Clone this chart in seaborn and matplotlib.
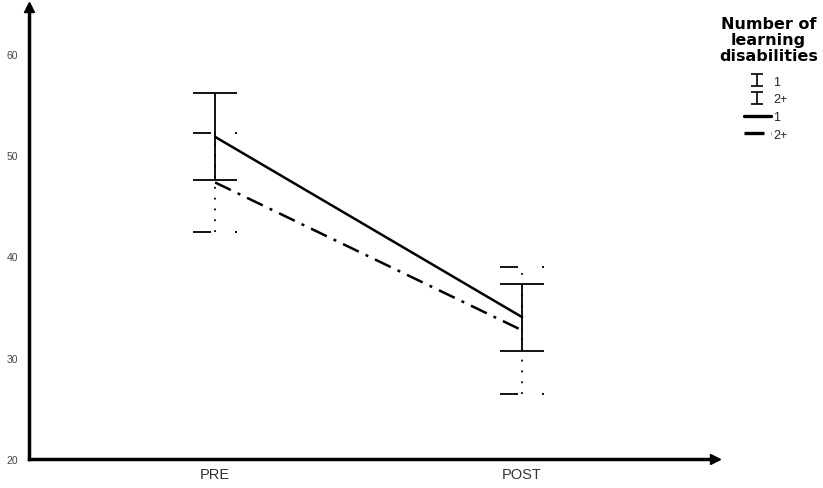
import pandas as pd
import matplotlib.pyplot as plt
import seaborn as sns
from matplotlib.lines import Line2D
from matplotlib.path import Path

# values
times = ['PRE', 'POST']
mean_one = [51.8, 34.0]
mean_two = [47.3, 32.7]
err_one = [4.3, 3.3]
err_two = [4.85, 6.3]

df = pd.DataFrame({
    'time': times * 2,
    'score': mean_one + mean_two,
    'group': ['1'] * 2 + ['2+'] * 2,
})

sns.set_style('white')
plt.rcParams['font.family'] = ['Liberation Sans', 'DejaVu Sans']

# "I" shaped marker for the legend, and a broken cap for the 2+ bars
M, L = Path.MOVETO, Path.LINETO
i_marker = Path([(-0.5, 0.5), (0.5, 0.5), (0, 0.5), (0, -0.5), (-0.5, -0.5), (0.5, -0.5)],
                [M, L, M, L, M, L])
cap_two = Path([(-1, 0), (-0.2, 0), (0.9, 0), (1.0, 0)], [M, L, M, L])

fig = plt.figure(figsize=(8.23, 4.89), dpi=100)
ax = fig.add_axes([0.0352, 0.0593, 0.834, 0.924])

sns.lineplot(data=df, x='time', y='score', style='group', color='black',
             dashes={'1': '', '2+': (7, 3, 1.2, 3)}, linewidth=1.8,
             legend=False, ax=ax)

# error bars
eb1 = ax.errorbar([0, 1], mean_one, yerr=err_one, fmt='none', ecolor='black',
                  elinewidth=1.3, capsize=16, capthick=1.3)
eb2 = ax.errorbar([0, 1], mean_two, yerr=err_two, fmt='none', ecolor='black',
                  elinewidth=1.3, capsize=16, capthick=1.3)
for ln in eb2.lines[2]:
    ln.set_linestyle((0, (1, 5)))
for cap in eb2.lines[1]:
    cap.set_marker(cap_two)
    cap.set_markersize(32)

ax.set_xlim(-0.606, 1.629)
ax.set_ylim(20, 64.6)
ax.set_yticks([20, 30, 40, 50, 60])
ax.set_xlabel('')
ax.set_ylabel('')
ax.tick_params(axis='y', length=0, labelsize=7.5, labelcolor='#444444', pad=8)
ax.tick_params(axis='x', length=0, labelsize=10.5, labelcolor='#333333', pad=6)

for s in ['top', 'right']:
    ax.spines[s].set_visible(False)
for s in ['left', 'bottom']:
    ax.spines[s].set_linewidth(2.5)
    ax.spines[s].set_color('black')

# arrow heads on the axes
ax.plot(1, 0, '>', color='black', markersize=7, transform=ax.transAxes, clip_on=False)
ax.plot(0, 1, '^', color='black', markersize=7, transform=ax.transAxes, clip_on=False)

# legend title as its own text, then the entries below it
fig.text(0.934, 0.966, 'Number of\nlearning\ndisabilities', ha='center', va='top',
         fontsize=11.5, fontweight='bold', family='DejaVu Sans', linespacing=1.1,
         color='black')

handles = [Line2D([], [], ls='none', marker=i_marker, markersize=9, color='black', mew=1.2),
           Line2D([], [], ls='none', marker=i_marker, markersize=9, color='black', mew=1.2),
           Line2D([], [], color='black', lw=2.4),
           Line2D([], [], color='black', lw=2.4, dashes=(6, 2, 1, 2))]
leg = fig.legend(handles, ['1', '2+', '1', '2+'],
                 loc='upper center', bbox_to_anchor=(0.93, 0.866), frameon=False,
                 fontsize=9, handlelength=2.2, handletextpad=0.15, labelspacing=0.45)
for t in leg.get_texts():
    t.set_color('#222222')

fig.savefig('out.png', dpi=100)
